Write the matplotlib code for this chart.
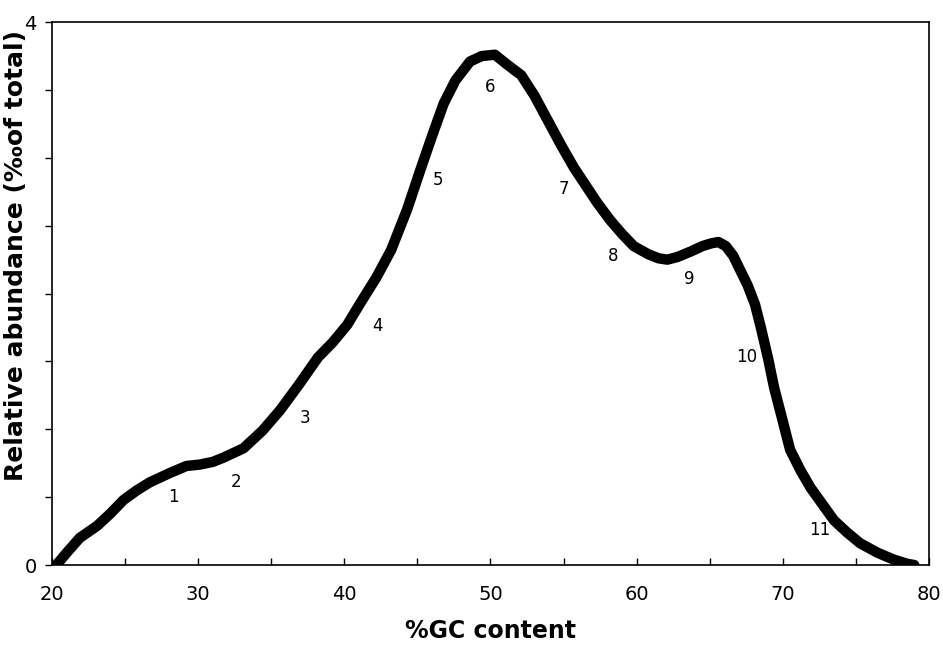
import matplotlib
matplotlib.use("Agg")
import matplotlib.pyplot as plt
from matplotlib.ticker import FixedLocator, FixedFormatter, MultipleLocator

gc = [20.3, 21.0, 21.9, 23.1, 24.0, 24.9, 25.8, 26.7, 28.1, 29.2, 30.1, 31.0,
      31.7, 33.1, 34.4, 35.6, 36.9, 38.2, 39.2, 40.2, 41.1, 42.2, 43.2, 44.3,
      45.2, 46.0, 46.8, 47.6, 48.6, 49.4, 50.3, 51.0, 51.6, 52.1, 53.0, 53.9,
      54.8, 55.7, 57.3, 58.2, 59.0, 59.8, 60.8, 61.5, 62.1, 62.8, 63.7, 64.5,
      65.1, 65.6, 66.1, 66.6, 67.1, 67.6, 68.1, 68.5, 69.0, 69.4, 70.0, 70.5,
      71.2, 71.9, 72.7, 73.5, 74.4, 75.3, 76.5, 77.6, 78.5, 79.0]
abundance = [0.0, 0.09, 0.20, 0.29, 0.38, 0.48, 0.55, 0.61, 0.68, 0.73, 0.74, 0.76,
             0.79, 0.86, 0.99, 1.14, 1.33, 1.53, 1.64, 1.77, 1.93, 2.12, 2.32, 2.62,
             2.91, 3.16, 3.40, 3.57, 3.71, 3.75, 3.76, 3.70, 3.65, 3.61, 3.46, 3.28,
             3.10, 2.93, 2.67, 2.54, 2.44, 2.35, 2.29, 2.26, 2.25, 2.27, 2.31, 2.35,
             2.37, 2.38, 2.35, 2.28, 2.17, 2.06, 1.92, 1.75, 1.52, 1.31, 1.06, 0.85,
             0.70, 0.57, 0.45, 0.33, 0.24, 0.16, 0.09, 0.04, 0.01, 0.0]

peak_labels = ["1", "2", "3", "4", "5", "6", "7", "8", "9", "10", "11"]
peak_x = [28.3, 32.6, 37.3, 42.3, 46.4, 50.0, 55.0, 58.4, 63.6, 67.5, 72.5]
peak_y = [0.50, 0.61, 1.08, 1.76, 2.84, 3.52, 2.77, 2.28, 2.11, 1.53, 0.26]

x_ticks = [20, 30, 40, 50, 60, 70, 80]
y_ticks = [0, 0.5, 1, 1.5, 2, 2.5, 3, 3.5, 4]
y_tick_labels = ["0", "", "", "", "", "", "", "", "4"]

fig = plt.figure(figsize=(9.43, 6.51), dpi=100)
ax = fig.add_axes([0.0551, 0.132, 0.930, 0.834])

ax.plot(gc, abundance, color="black", linewidth=7.5, solid_capstyle="round",
        solid_joinstyle="round")

for lab, px, py in zip(peak_labels, peak_x, peak_y):
    ax.text(px, py, lab, ha="center", va="center", fontsize=12, color="black")

ax.set_xlim(20, 80)
ax.set_ylim(0, 4)
ax.set_xticks(x_ticks)
ax.set_xticklabels([str(v) for v in x_ticks], fontsize=14)
ax.xaxis.set_minor_locator(MultipleLocator(5))
ax.tick_params(axis="x", which="both", direction="in", length=5, width=1, pad=14)

ax.yaxis.set_major_locator(FixedLocator(y_ticks))
ax.yaxis.set_major_formatter(FixedFormatter(y_tick_labels))
ax.tick_params(axis="y", direction="out", length=5, width=1, pad=6, labelsize=14)

for s in ax.spines.values():
    s.set_linewidth(1.2)

ax.set_xlabel("%GC content", fontsize=17, fontweight="bold", labelpad=11)
ax.set_ylabel("Relative abundance (‰of total)", fontsize=18, fontweight="bold")
ax.yaxis.set_label_coords(-0.027, 0.57)

fig.savefig("out.png", dpi=100)
